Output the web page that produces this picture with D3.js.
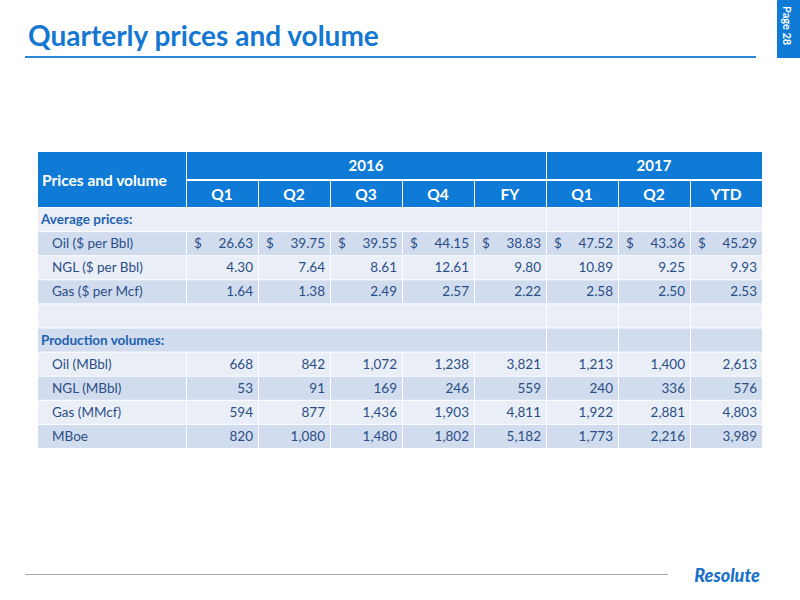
<!DOCTYPE html>
<html><head><meta charset="utf-8">
<script src="https://cdn.jsdelivr.net/npm/d3@7"></script>
<style>body{margin:0;background:#fff}svg{font-family:Lato,"Open Sans",sans-serif}</style>
</head><body><svg id="c" width="800" height="600"></svg>
<script>
const years = [{label:"2016", span:5},{label:"2017", span:3}];
const columns = ["Q1","Q2","Q3","Q4","FY","Q1","Q2","YTD"];
const rowLabels = ["Average prices:","Oil ($ per Bbl)","NGL ($ per Bbl)","Gas ($ per Mcf)","","Production volumes:","Oil (MBbl)","NGL (MBbl)","Gas (MMcf)","MBoe"];
const isSection = [true,false,false,false,false,true,false,false,false,false];
const oilPrice = [26.63,39.75,39.55,44.15,38.83,47.52,43.36,45.29];
const nglPrice = [4.30,7.64,8.61,12.61,9.80,10.89,9.25,9.93];
const gasPrice = [1.64,1.38,2.49,2.57,2.22,2.58,2.50,2.53];
const oilVol = [668,842,1072,1238,3821,1213,1400,2613];
const nglVol = [53,91,169,246,559,240,336,576];
const gasVol = [594,877,1436,1903,4811,1922,2881,4803];
const mboe = [820,1080,1480,1802,5182,1773,2216,3989];
const rowValues = [null,oilPrice,nglPrice,gasPrice,null,null,oilVol,nglVol,gasVol,mboe];
const rowFormat = [null,"$","p","p",null,null,"n","n","n","n"];

const svg = d3.select("#c");
const blue="#0f7bd6", dark="#d1dcee", light="#e9eef7";
svg.append("text").attr("x",28).attr("y",46).attr("fill","#1478d2").attr("font-size",28).attr("font-weight","bold").text("Quarterly prices and volume");
svg.append("rect").attr("x",25).attr("y",56).attr("width",731).attr("height",2).attr("fill","#2f86d8");
svg.append("rect").attr("x",777).attr("y",0).attr("width",23).attr("height",58).attr("fill",blue);
svg.append("text").attr("transform","translate(783,6) rotate(90)").attr("fill","#fff").attr("font-size",11).attr("font-weight","bold").text("Page 28");
svg.append("rect").attr("x",25).attr("y",574).attr("width",643).attr("height",1).attr("fill","#aaa");
svg.append("text").attr("x",727).attr("y",582).attr("text-anchor","middle").attr("fill","#1a72c7").attr("font-size",18).attr("font-weight","900").attr("font-style","italic").text("Resolute");

const x = d3.scaleBand().domain(d3.range(columns.length)).range([186,762]);
const labelX0=38, labelX1=186;
const y = d3.scaleLinear().domain([0,rowLabels.length]).range([207,448]);
const g=1;
let ci=0;
years.forEach(yr=>{
  const x0=x(ci), x1=x(ci+yr.span-1)+x.bandwidth();
  svg.append("rect").attr("x",x0+g).attr("y",152).attr("width",x1-x0-g).attr("height",27).attr("fill",blue);
  svg.append("text").attr("x",(x0+x1)/2).attr("y",171).attr("text-anchor","middle").attr("fill","#fff").attr("font-size",15).attr("font-weight","bold").text(yr.label);
  ci+=yr.span;
});
svg.append("rect").attr("x",labelX0).attr("y",152).attr("width",labelX1-labelX0).attr("height",55).attr("fill",blue);
svg.append("text").attr("x",42).attr("y",186).attr("fill","#fff").attr("font-size",15.5).attr("font-weight","bold").text("Prices and volume");
columns.forEach((c,i)=>{
  svg.append("rect").attr("x",x(i)+g).attr("y",181).attr("width",x.bandwidth()-g).attr("height",26).attr("fill",blue);
  svg.append("text").attr("x",x(i)+x.bandwidth()/2).attr("y",200).attr("text-anchor","middle").attr("fill","#fff").attr("font-size",15.5).attr("font-weight","bold").text(c);
});
const fmt=d3.format(",.0f"), f2=d3.format(".2f");
const tc="#2a4f86";
rowLabels.forEach((lab,r)=>{
  const y0=y(r), h=y(r+1)-y(r);
  const fill = r%2===0?light:dark;
  const merged = isSection[r]||lab==="";
  svg.append("rect").attr("x",labelX0).attr("y",y0+g).attr("width",(merged?x(5):labelX1)-labelX0).attr("height",h-g).attr("fill",fill);
  (merged?[5,6,7]:[0,1,2,3,4,5,6,7]).forEach(i=>{
    svg.append("rect").attr("x",x(i)+g).attr("y",y0+g).attr("width",x.bandwidth()-g).attr("height",h-g).attr("fill",fill);
  });
  const ty=y0+h/2+5;
  svg.append("text").attr("x",isSection[r]?41:52).attr("y",ty).attr("fill",isSection[r]?"#1f62b0":tc).attr("font-size",13.5).attr("font-weight",isSection[r]?"bold":"normal").text(lab);
  const vals=rowValues[r];
  if(vals){
    vals.forEach((v,i)=>{
      const tx=x(i)+x.bandwidth()-5;
      const fm=rowFormat[r];
      svg.append("text").attr("x",tx).attr("y",ty).attr("text-anchor","end").attr("fill",tc).attr("font-size",13.5).text(fm==="n"?fmt(v):f2(v));
      if(fm==="$") svg.append("text").attr("x",x(i)+8).attr("y",ty).attr("fill",tc).attr("font-size",13.5).text("$");
    });
  }
});
</script></body></html>
